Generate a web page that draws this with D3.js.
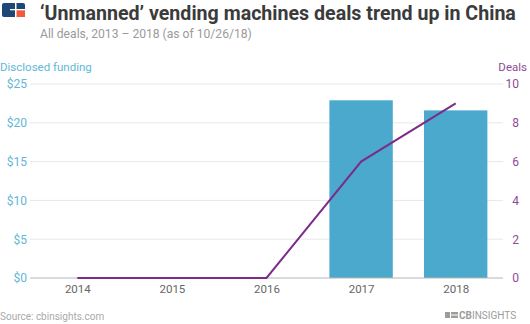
<!DOCTYPE html>
<html><head><meta charset="utf-8">
<script src="https://cdn.jsdelivr.net/npm/d3@7"></script>
<style>
html,body{margin:0;padding:0;background:#fff;}
svg{display:block;font-family:Roboto, "Noto Sans", sans-serif;}
</style></head>
<body>
<svg id="chart" width="530" height="324"></svg>
<script>
const years = ["2014","2015","2016","2017","2018"];
const funding = [0, 0, 0, 22.9, 21.6];
const deals = [0, 0, 0, 6, 9];
const fundingTicks = [0, 5, 10, 15, 20, 25];
const dealTicks = [0, 2, 4, 6, 8, 10];

(function(){
const svg = d3.select("#chart");
const pL = 30, pR = 503, pT = 84, pB = 278;

const x = d3.scaleBand().domain(years).range([pL, pR]).paddingInner(0.33).paddingOuter(0.165);
const xc = d3.scalePoint().domain(years).range([pL, pR]).padding(0.5);
const yL = d3.scaleLinear().domain([0, 25]).range([pB, pT]);
const yR = d3.scaleLinear().domain([0, 10]).range([pB, pT]);

// gridlines
svg.append("g").selectAll("line").data(fundingTicks.slice(1)).join("line")
  .attr("x1", pL).attr("x2", pR)
  .attr("y1", d => yL(d)).attr("y2", d => yL(d))
  .attr("stroke", "#e8e8e8").attr("stroke-width", 1);

// bars
svg.append("g").selectAll("rect").data(years.map((y,i)=>({y, v: funding[i]})).filter(d=>d.v>0)).join("rect")
  .attr("x", d => x(d.y)).attr("width", x.bandwidth())
  .attr("y", d => yL(d.v)).attr("height", d => pB - yL(d.v))
  .attr("fill", "#4aa9cd");

// baseline
svg.append("line").attr("x1", pL).attr("x2", pR).attr("y1", pB).attr("y2", pB)
  .attr("stroke", "#b5b5b5").attr("stroke-width", 1);

// line
const line = d3.line().x((d,i) => xc(years[i])).y(d => yR(d));
svg.append("path").datum(deals).attr("d", line)
  .attr("fill", "none").attr("stroke", "#7d2b8b").attr("stroke-width", 2);

// left axis
const axL = d3.axisLeft(yL).tickValues(fundingTicks).tickFormat(d => "$" + d).tickSize(0).tickPadding(0);
const gL = svg.append("g").attr("transform", `translate(27,0)`).call(axL);
gL.select(".domain").remove();
gL.selectAll("text").attr("fill", "#62b7d6").attr("font-size", 12).attr("font-family", "Roboto");

// right axis
const axR = d3.axisRight(yR).tickValues(dealTicks).tickSize(0).tickPadding(0);
const gR = svg.append("g").attr("transform", `translate(519,0)`).call(axR);
gR.select(".domain").remove();
gR.selectAll("text").attr("text-anchor", "end").attr("fill", "#8e4a96").attr("font-size", 12).attr("font-family", "Roboto");

// x axis
const axX = d3.axisBottom(xc).tickSize(0).tickPadding(0);
const gX = svg.append("g").attr("transform", `translate(0,285)`).call(axX);
gX.select(".domain").remove();
gX.selectAll("text").attr("fill", "#666").attr("font-size", 11.5).attr("font-family", "Roboto").attr("dy", "0.71em");

// axis titles
svg.append("text").attr("x", 0).attr("y", 71).text("Disclosed funding")
  .attr("fill", "#62b7d6").attr("font-size", 11.5);
svg.append("text").attr("x", 527).attr("y", 71).attr("text-anchor", "end").text("Deals")
  .attr("fill", "#8e4a96").attr("font-size", 11.5);

// title: fit to width
const title = svg.append("text").attr("x", 40).attr("y", 19.5)
  .text("\u2018Unmanned\u2019 vending machines deals trend up in China")
  .attr("fill", "#3b3b3b").attr("font-size", 20).attr("font-weight", "bold");
const tw = title.node().getComputedTextLength();
if (tw > 476) title.attr("font-size", (20 * 476 / tw).toFixed(2));

const sub = svg.append("text").attr("x", 40).attr("y", 38).text("All deals, 2013 \u2013 2018 (as of 10/26/18)")
  .attr("fill", "#9a9a9a").attr("font-size", 13);
const sw = sub.node().getComputedTextLength();
sub.attr("font-size", (13 * 212 / sw).toFixed(2));

// logo top-left
const lg = svg.append("g");
lg.append("rect").attr("x", 2).attr("y", 3).attr("width", 23).attr("height", 14).attr("rx", 2).attr("fill", "#1d4775");
lg.append("rect").attr("x", 16).attr("y", 10).attr("width", 9).attr("height", 7).attr("fill", "#f05a3a");
lg.append("rect").attr("x", 15).attr("y", 3).attr("width", 1.5).attr("height", 14).attr("fill", "#fff");
lg.append("rect").attr("x", 10).attr("y", 9).attr("width", 15).attr("height", 1.3).attr("fill", "#fff");

// source
svg.append("text").attr("x", 0).attr("y", 320).text("Source: cbinsights.com")
  .attr("fill", "#aaa").attr("font-size", 10);

// CB Insights logo
const cb = svg.append("g").attr("fill", "#9c9c9c");
cb.append("rect").attr("x", 445).attr("y", 312).attr("width", 5).attr("height", 6);
cb.append("rect").attr("x", 451).attr("y", 312).attr("width", 7).attr("height", 2.5);
cb.append("rect").attr("x", 451).attr("y", 315.5).attr("width", 7).attr("height", 2.5);
const cbt = cb.append("text").attr("x", 459).attr("y", 318.5).attr("font-size", 9)
  .html('<tspan font-weight="bold">CB</tspan>INSIGHTS');
const cw = cbt.node().getComputedTextLength();
cbt.attr("font-size", Math.min(10, 9 * 70 / cw).toFixed(2));
})();
</script>
</body></html>
